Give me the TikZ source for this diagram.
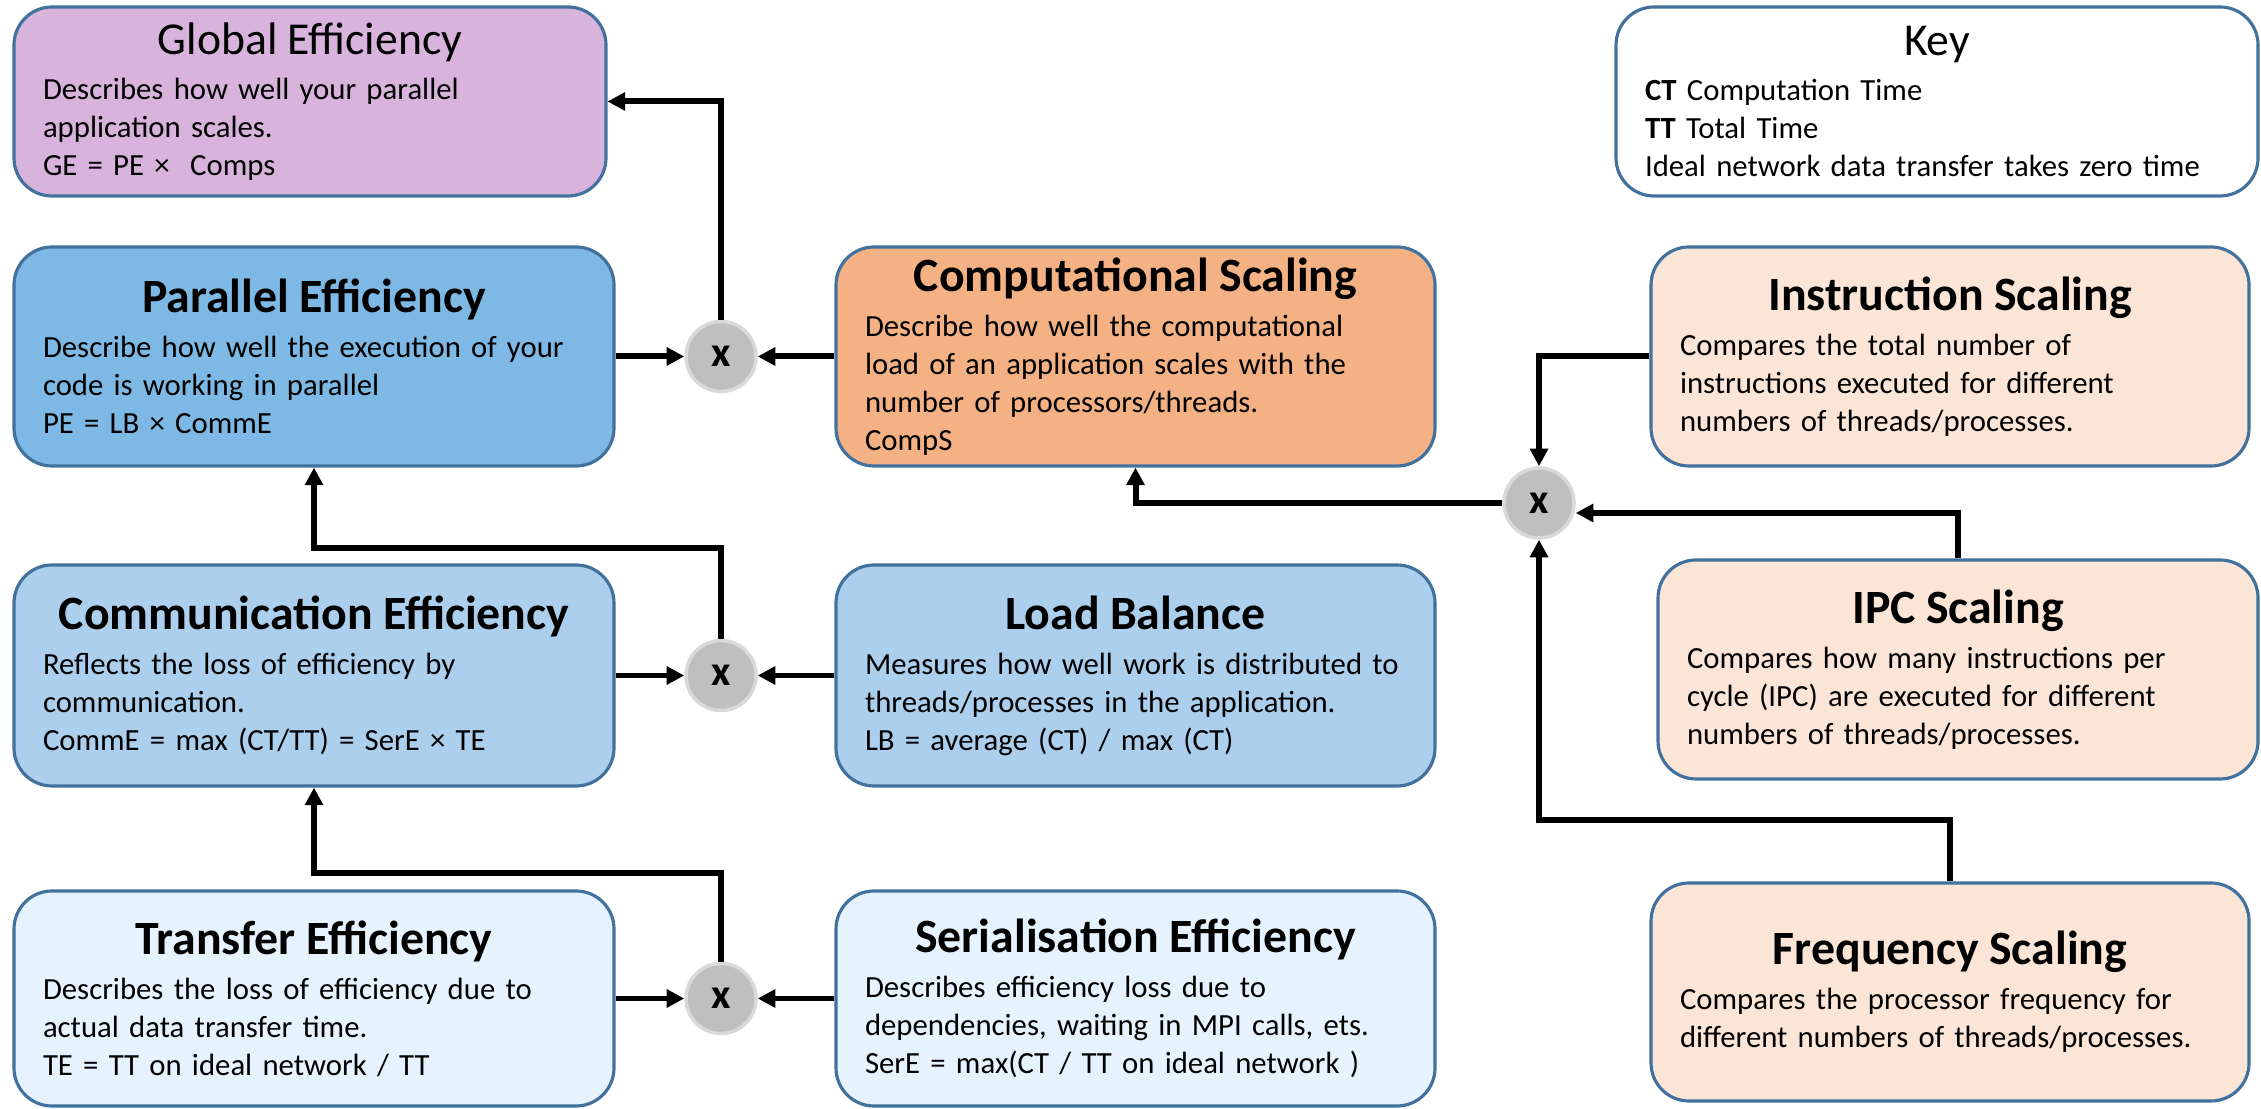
\documentclass[tikz,border=0pt]{standalone}
\usepackage{fontspec}
\setmainfont{Carlito}
\usetikzlibrary{arrows.meta}

\definecolor{borde}{HTML}{41719C}
\definecolor{lila}{HTML}{D8B3DC}
\definecolor{azul}{HTML}{7DB9E4}
\definecolor{celeste}{HTML}{ABCFEC}
\definecolor{hielo}{HTML}{E6F3FE}
\definecolor{naranja}{HTML}{F4B183}
\definecolor{salmon}{HTML}{FBE5D6}
\definecolor{gris}{HTML}{BFBFBF}

\tikzset{
  caja/.style={draw=borde, line width=0.9pt, rounded corners=0.38cm, align=left,
    inner xsep=0.29cm, inner ysep=0pt, minimum height=2.19cm, text width=5.42cm,
    font=\fontsize{8.75}{10.8}\selectfont},
  mult/.style={circle, fill=gris, draw=gris!60, line width=1pt, minimum size=0.7cm,
    inner sep=0pt, font=\fontsize{12}{12}\selectfont\bfseries},
  flecha/.style={-{Triangle[width=5pt,length=5pt]}, line width=1.7pt},
}
\newcommand{\titulo}[1]{{\centering\fontsize{13.6}{15}\selectfont\bfseries #1\par}\vspace{2pt}}
\newcommand{\titulon}[1]{{\centering\fontsize{13}{15}\selectfont #1\par}\vspace{2pt}}

\begin{document}
\begin{tikzpicture}
\useasboundingbox (0,0) rectangle (22.61,11.09);
% Cajas
\node [caja, fill=lila, minimum height=1.89cm, text width=5.34cm] (GE) at (3.10,10.075) {\titulon{Global Efficiency}Describes how well your parallel\\application scales.\\GE = PE ×\ \ Comps};
\node [caja, fill=azul] (PE) at (3.14,7.525) {\titulo{Parallel Efficiency}Describe how well the execution of your\\code is working in parallel\\PE = LB × CommE};
\node [caja, fill=naranja, text width=5.41cm] (CS) at (11.355,7.525) {\titulo{Computational Scaling}Describe how well the computational\\load of an application scales with the\\number of processors/threads.\\CompS};
\node [caja, fill=white, minimum height=1.89cm, text width=5.84cm] (Key) at (19.37,10.075) {\titulon{Key}\textbf{CT} Computation Time\\\textbf{TT} Total Time\\Ideal network data transfer takes zero time};
\node [caja, fill=salmon, text width=5.40cm] (IS) at (19.50,7.525) {\titulo{Instruction Scaling}Compares the total number of\\instructions executed for different\\numbers of threads/processes.};
\node [caja, fill=celeste, minimum height=2.21cm] (CommE) at (3.14,4.335) {\titulo{Communication Efficiency}Reflects the loss of efficiency by\\communication.\\CommE = max (CT/TT) = SerE × TE};
\node [caja, fill=celeste, minimum height=2.21cm, text width=5.41cm] (LB) at (11.355,4.335) {\titulo{Load Balance}Measures how well work is distributed to\\threads/processes in the application.\\LB = average (CT) / max (CT)};
\node [caja, fill=salmon] (IPC) at (19.58,4.395) {\titulo{IPC Scaling}Compares how many instructions per\\cycle (IPC) are executed for different\\numbers of threads/processes.};
\node [caja, fill=hielo, minimum height=2.15cm] (TE) at (3.14,1.105) {\titulo{Transfer Efficiency}Describes the loss of efficiency due to\\actual data transfer time.\\TE = TT on ideal network / TT};
\node [caja, fill=hielo, minimum height=2.15cm, text width=5.41cm] (SerE) at (11.355,1.105) {\titulo{Serialisation Efficiency}Describes efficiency loss due to\\dependencies, waiting in MPI calls, ets.\\SerE = max(CT / TT on ideal network )};
\node [caja, fill=salmon, minimum height=2.18cm, text width=5.40cm] (FS) at (19.50,1.17) {\titulo{Frequency Scaling}Compares the processor frequency for\\different numbers of threads/processes.};
% Productos
\node [mult] (m1) at (7.21,7.525) {x};
\node [mult] (m2) at (7.21,4.335) {x};
\node [mult] (m3) at (15.39,6.06) {x};
\node [mult] (m4) at (7.21,1.105) {x};
% Flechas
\draw [flecha] (PE.east) -- (m1.west);
\draw [flecha] (CS.west) -- (m1.east);
\draw [flecha] (m1.north) |- (GE.east);
\draw [flecha] (CommE.east) -- (m2.west);
\draw [flecha] (LB.west) -- (m2.east);
\draw [flecha] (m2.north) -- ++(0,0.905) -| (PE.south);
\draw [flecha] (TE.east) -- (m4.west);
\draw [flecha] (SerE.west) -- (m4.east);
\draw [flecha] (m4.north) -- ++(0,0.885) -| (CommE.south);
\draw [flecha] (IS.west) -| (m3.north);
\draw [flecha] (IPC.north) |- ([yshift=-1mm]m3.east);
\draw [flecha] (FS.north) -- ++(0,0.61) -| (m3.south);
\draw [flecha] (m3.west) -| (CS.south);
\end{tikzpicture}
\end{document}
